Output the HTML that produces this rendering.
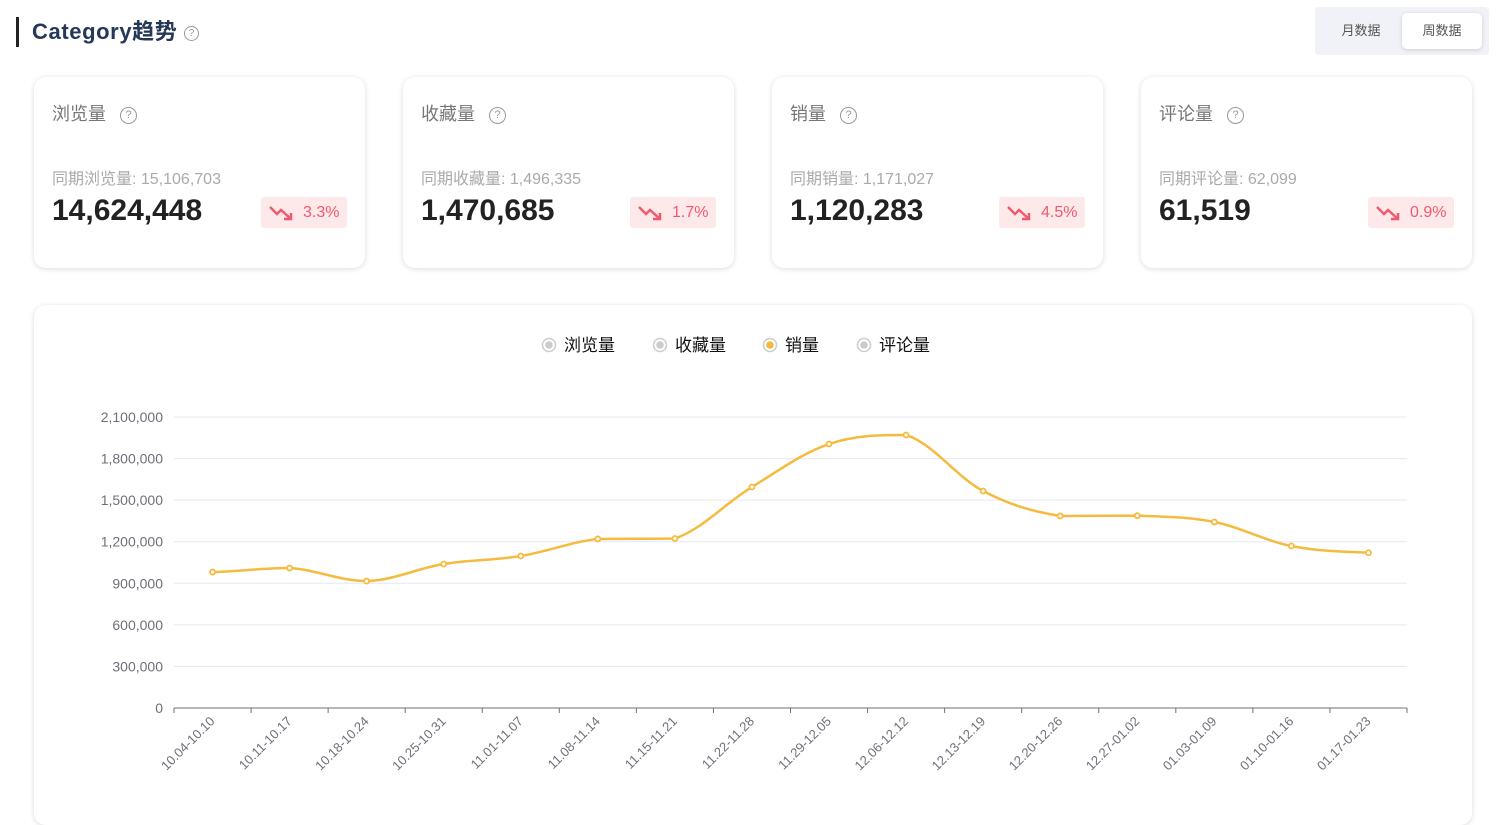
<!DOCTYPE html>
<html><head><meta charset="utf-8">
<style>
*{box-sizing:border-box;margin:0;padding:0}
body{width:1501px;height:799px;background:#fff;font-family:"Liberation Sans","Noto Sans CJK SC",sans-serif;position:relative;overflow:hidden}
.title{position:absolute;left:16px;top:17px;height:30px;border-left:3px solid #222;padding-left:13px;font-size:22px;font-weight:bold;color:#253858;line-height:30px;letter-spacing:0.6px}
.q{display:inline-block;width:15px;height:15px;border:1.3px solid #999;border-radius:50%;font-size:10px;line-height:13px;text-align:center;color:#999;font-weight:normal;vertical-align:middle;letter-spacing:0}
.tog{position:absolute;left:1315px;top:7px;width:174px;height:48px;background:#f0f2f7;border-radius:4px}
.tog div{position:absolute;top:6px;height:36px;width:80px;line-height:36px;text-align:center;font-size:13px;color:#555}
.tog .on{left:87px;background:#fff;border-radius:5px;box-shadow:0 1px 4px rgba(0,0,0,.15)}
.card{position:absolute;top:77px;width:331px;height:191px;background:#fff;border-radius:12px;box-shadow:0 1px 6px rgba(0,0,0,.14)}
.card .h{position:absolute;left:18px;top:23px;font-size:18px;color:#777}
.card .h .q{margin-left:14px;width:17px;height:17px;line-height:15px;font-size:11px}
.card .s{position:absolute;left:18px;top:88px;font-size:16px;color:#aaa}
.card .v{position:absolute;left:18px;top:117px;font-size:30px;font-weight:bold;color:#222}
.card .b{position:absolute;right:18px;top:120px;height:31px;width:86px;background:#fde8ea;border-radius:3px;color:#ef5a6f;font-size:16px;line-height:31px;padding-left:42px}
.card .b svg{position:absolute;left:8px;top:7px}
.chart{position:absolute;left:34px;top:305px;width:1438px;height:520px;background:#fff;border-radius:12px;box-shadow:0 1px 6px rgba(0,0,0,.14)}
</style></head><body>
<div class="title">Category趋势 <span class="q">?</span></div>
<div class="tog">
<div style="left:6px">月数据</div>
<div class="on">周数据</div>
</div>

<div class="card" style="left:34px"><div class="h">浏览量<span class="q">?</span></div><div class="s">同期浏览量: 15,106,703</div><div class="v">14,624,448</div><div class="b"><svg width="26" height="18" viewBox="0 0 26 18"><path d="M1 3 L8 10 L12 6 L22 15 M15 15 H22 V9" stroke="#ef5a6f" stroke-width="2.5" fill="none"/></svg>3.3%</div></div>
<div class="card" style="left:403px"><div class="h">收藏量<span class="q">?</span></div><div class="s">同期收藏量: 1,496,335</div><div class="v">1,470,685</div><div class="b"><svg width="26" height="18" viewBox="0 0 26 18"><path d="M1 3 L8 10 L12 6 L22 15 M15 15 H22 V9" stroke="#ef5a6f" stroke-width="2.5" fill="none"/></svg>1.7%</div></div>
<div class="card" style="left:772px"><div class="h">销量<span class="q">?</span></div><div class="s">同期销量: 1,171,027</div><div class="v">1,120,283</div><div class="b"><svg width="26" height="18" viewBox="0 0 26 18"><path d="M1 3 L8 10 L12 6 L22 15 M15 15 H22 V9" stroke="#ef5a6f" stroke-width="2.5" fill="none"/></svg>4.5%</div></div>
<div class="card" style="left:1141px"><div class="h">评论量<span class="q">?</span></div><div class="s">同期评论量: 62,099</div><div class="v">61,519</div><div class="b"><svg width="26" height="18" viewBox="0 0 26 18"><path d="M1 3 L8 10 L12 6 L22 15 M15 15 H22 V9" stroke="#ef5a6f" stroke-width="2.5" fill="none"/></svg>0.9%</div></div>

<div class="chart"></div>
<svg id="svg" width="1501" height="799" style="position:absolute;left:0;top:0" font-family="Liberation Sans, Noto Sans CJK SC, sans-serif"></svg>

<script>
const categories=["10.04-10.10","10.11-10.17","10.18-10.24","10.25-10.31","11.01-11.07","11.08-11.14","11.15-11.21","11.22-11.28","11.29-12.05","12.06-12.12","12.13-12.19","12.20-12.26","12.27-01.02","01.03-01.09","01.10-01.16","01.17-01.23"];
const salesValues=[981000,1010000,916000,1039000,1097000,1220000,1223000,1595000,1905000,1970000,1566000,1386000,1388000,1342000,1169000,1120283];
const yTicks=[0,300000,600000,900000,1200000,1500000,1800000,2100000];
const legendNames=["浏览量","收藏量","销量","评论量"];

const NS="http://www.w3.org/2000/svg";
const svg=document.getElementById('svg');
const X0=174,X1=1407,Y0=708,Y1=417,YMAX=2100000;
const bw=(X1-X0)/categories.length;
const xc=i=>X0+bw*(i+0.5);
const ys=v=>Y0-(v/YMAX)*(Y0-Y1);
function mk(t,a,p){const e=document.createElementNS(NS,t);for(const k in a)e.setAttribute(k,a[k]);(p||svg).appendChild(e);return e;}

yTicks.forEach(v=>{
  const y=ys(v);
  if(v>0){const g=mk('line',{x1:X0,x2:X1,y1:y,y2:y,stroke:'#e6e8f2','stroke-width':1});
  
  }
  const t=mk('text',{x:163,y:y+5,'text-anchor':'end','font-size':14,fill:'#6e7079'});
  t.textContent=v.toLocaleString('en-US');
  
  
});
const ax=mk('line',{x1:X0,x2:X1,y1:Y0,y2:Y0,stroke:'#6e7079','stroke-width':1});


for(let i=0;i<=categories.length;i++){
  const x=X0+bw*i;
  const tk=mk('line',{x1:x,x2:x,y1:Y0,y2:Y0+5,stroke:'#6e7079'});
  
  
}
categories.forEach((c,i)=>{
  const x=xc(i)+3,y=Y0+14;
  const t=mk('text',{x:x,y:y,'text-anchor':'end','font-size':13,fill:'#6e7079',transform:`rotate(-45 ${x} ${y})`});
  t.textContent=c;
  
  
});
const pts=salesValues.map((v,i)=>[xc(i),ys(v)]);
let d=`M${pts[0][0]},${pts[0][1]}`;
const s=0.35;
for(let i=0;i<pts.length-1;i++){
  const p0=pts[Math.max(i-1,0)],p1=pts[i],p2=pts[i+1],p3=pts[Math.min(i+2,pts.length-1)];
  let c1y=p1[1]+(p2[1]-p0[1])*s/2, c2y=p2[1]-(p3[1]-p1[1])*s/2;
  const lo=Math.min(p1[1],p2[1]),hi=Math.max(p1[1],p2[1]);
  c1y=Math.min(hi,Math.max(lo,c1y));c2y=Math.min(hi,Math.max(lo,c2y));
  d+=` C${p1[0]+bw*s},${c1y} ${p2[0]-bw*s},${c2y} ${p2[0]},${p2[1]}`;
}
const line=mk('path',{d:d,fill:'none',stroke:'#f4bb3f','stroke-width':2.5});


pts.forEach(p=>{
  const c=mk('circle',{cx:p[0],cy:p[1],r:2.5,fill:'#fff',stroke:'#f4bb3f','stroke-width':1.8});
  
  
});
const lx=[549,660,770,864];
legendNames.forEach((n,i)=>{
  const g=mk('g',{});
  
  
  mk('circle',{cx:lx[i],cy:345,r:6.5,fill:'#fff',stroke:'#ccc','stroke-width':1.5},g);
  mk('circle',{cx:lx[i],cy:345,r:3.8,fill:i==2?'#f4bb3f':'#ccc'},g);
  const t=mk('text',{x:lx[i]+15,y:351,'font-size':17,fill:'#111'},g);
  t.textContent=n;
});
</script>
</body></html>
